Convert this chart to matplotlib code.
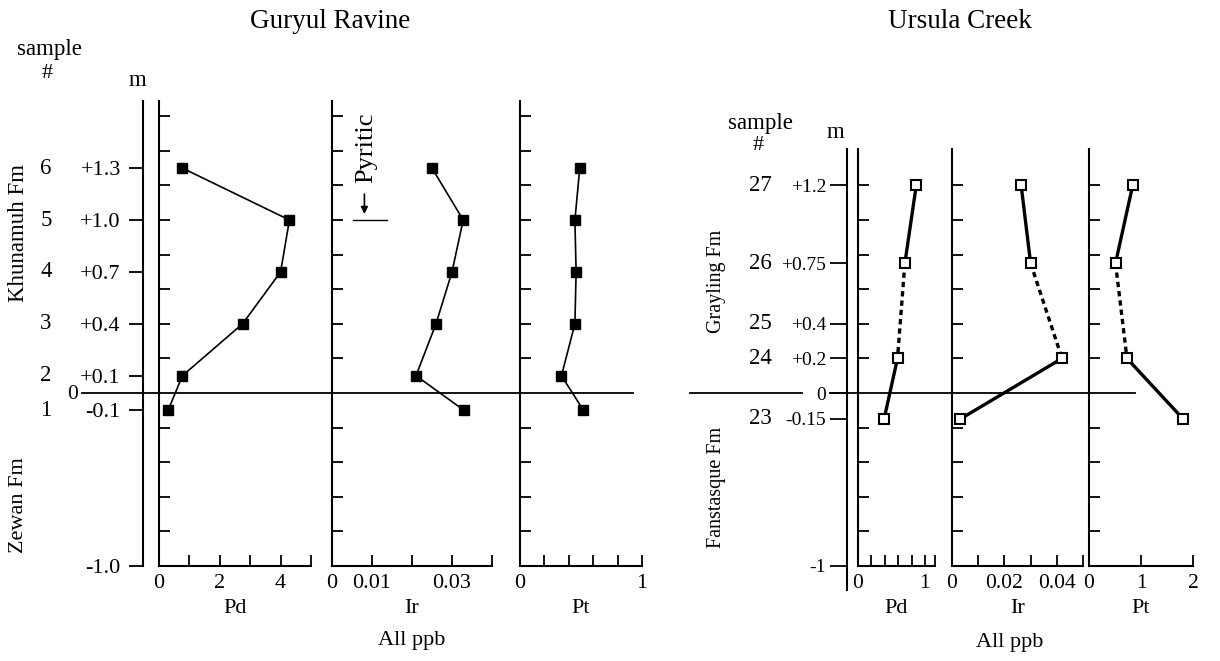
import numpy as np
import matplotlib
matplotlib.use("Agg")
import matplotlib.pyplot as plt
import matplotlib.transforms as mtransforms
from matplotlib.lines import Line2D

plt.rcParams["font.family"] = ["Liberation Serif", "DejaVu Serif"]

# Guryul Ravine (filled squares)
gur_depth = [1.3, 1.0, 0.7, 0.4, 0.1, -0.1]
gur_sample = ["6", "5", "4", "3", "2", "1"]
gur_depth_lbl = ["+1.3", "+1.0", "+0.7", "+0.4", "+0.1", "-0.1"]
gur_pd = [0.77, 4.29, 4.0, 2.75, 0.77, 0.3]
gur_ir = [0.025, 0.0328, 0.030, 0.026, 0.021, 0.033]
gur_pt = [0.49, 0.45, 0.46, 0.45, 0.34, 0.52]

# Ursula Creek (open squares); sample 25 has no analysis
urs_depth = [1.2, 0.75, 0.4, 0.2, -0.15]
urs_sample = ["27", "26", "25", "24", "23"]
urs_depth_lbl = ["+1.2", "+0.75", "+0.4", "+0.2", "-0.15"]
urs_meas_depth = [1.2, 0.75, 0.2, -0.15]
urs_pd = [0.87, 0.70, 0.59, 0.39]
urs_ir = [0.0264, 0.030, 0.042, 0.0032]
urs_pt = [0.84, 0.51, 0.73, 1.81]

W, H = 1220, 661
Y0, S = 393, 173  # pixel row of 0 m, pixels per metre

fig = plt.figure(figsize=(W / 100, H / 100), dpi=100)


def ypx(d):
    return Y0 - S * d


def add_panel(x0, x1, d_lo, d_hi):
    b = 1 - ypx(d_lo) / H
    t = 1 - ypx(d_hi) / H
    ax = fig.add_axes([x0 / W, b, (x1 - x0) / W, t - b])
    ax.set_ylim(d_lo, d_hi)
    ax.patch.set_visible(False)
    return ax


def ftext(x, y, s, fs, **kw):
    kw.setdefault("ha", "center")
    kw.setdefault("va", "center")
    fig.text(x / W, 1 - y / H, s, fontsize=fs, **kw)


def depth_axis(x, d_lo, d_hi, ticks, labels, tlen, pad, fs):
    ax = add_panel(x, x + 0.5, d_lo, d_hi)
    for side in ["top", "right", "bottom"]:
        ax.spines[side].set_visible(False)
    ax.spines["left"].set_linewidth(1.5)
    ax.set_xticks([])
    ax.set_yticks(ticks)
    ax.set_yticklabels(labels)
    ax.tick_params(axis="y", direction="out", length=tlen, width=1.3,
                   pad=pad, labelsize=fs)
    return ax


def element_axis(x0, x1, xmax, d_lo, d_hi, yticks, xticks, xlabels, name, fs):
    ax = add_panel(x0, x1, d_lo, d_hi)
    ax.set_xlim(0, xmax)
    ax.spines["top"].set_visible(False)
    ax.spines["right"].set_visible(False)
    for side in ["left", "bottom"]:
        ax.spines[side].set_linewidth(1.5)
    ax.set_yticks(yticks)
    ax.set_yticklabels([])
    ax.set_xticks(xticks)
    ax.set_xticklabels(xlabels)
    ax.tick_params(axis="both", direction="in", length=8, width=1.3,
                   labelsize=fs)
    ax.tick_params(axis="x", pad=6)
    ax.set_xlabel(name, fontsize=16, labelpad=4)
    return ax


def zero_line(ax, segments):
    tr = mtransforms.blended_transform_factory(fig.transFigure, ax.transData)
    for a, b in segments:
        fig.add_artist(Line2D([a / W, b / W], [0, 0], transform=tr,
                              color="k", lw=1.3))


def side_text(ax, x, depths, labels, fs):
    tr = mtransforms.blended_transform_factory(fig.transFigure, ax.transData)
    for d, s in zip(depths, labels):
        ax.text(x / W, d, s, transform=tr, ha="center", va="center",
                fontsize=fs)


# ---------------- Guryul Ravine ----------------
G_LO, G_HI = -1.0, 1.69
g_yt = [-0.8, -0.6, -0.4, -0.2, 0.2, 0.4, 0.6, 0.8, 1.0, 1.2, 1.4, 1.6]

gd = depth_axis(143, G_LO, G_HI, gur_depth + [-1.0], gur_depth_lbl + ["-1.0"],
                tlen=10, pad=6, fs=16)
side_text(gd, 46, gur_depth, gur_sample, 16.5)

gpd = element_axis(159, 311, 5, G_LO, G_HI, g_yt, [0, 1, 2, 3, 4, 5],
                   ["0", "", "2", "", "4", ""], "Pd", 16)
gir = element_axis(332, 492, 0.04, G_LO, G_HI, g_yt,
                   [0, 0.01, 0.02, 0.03, 0.04],
                   ["0", "0.01", "", "0.03", ""], "Ir", 16)
gpt = element_axis(520, 642, 1, G_LO, G_HI, g_yt,
                   [0, 0.2, 0.4, 0.6, 0.8, 1.0],
                   ["0", "", "", "", "", "1"], "Pt", 16)

for ax, vals in [(gpd, gur_pd), (gir, gur_ir), (gpt, gur_pt)]:
    ax.plot(vals, gur_depth, color="k", lw=1.2, marker="s", ms=7.5,
            mfc="k", mec="k", clip_on=False)

# pyritic marker
gir.text(0.0086, 1.42, "Pyritic", rotation=90, ha="center", va="center",
         fontsize=19)
gir.annotate("", xy=(0.0081, 1.035), xytext=(0.0081, 1.15),
             arrowprops=dict(arrowstyle="-|>", color="k", lw=1.2,
                             mutation_scale=10, shrinkA=0, shrinkB=0))
gir.plot([0.0052, 0.0138], [1.0, 1.0], color="k", lw=1.0)

zero_line(gd, [(82, 633)])
ftext(73, 395, "0", 15.5)

ftext(330, 22, "Guryul Ravine", 19.5)
ftext(49, 50, "sample", 16.5)
ftext(47, 74, "#", 16)
ftext(137, 80, "m", 16.5)
ftext(19, 233, "Khunamuh Fm", 16.5, rotation=90)
ftext(19, 505, "Zewan Fm", 16, rotation=90)
ftext(412, 640, "All ppb", 16)

# ---------------- Ursula Creek ----------------
U_LO, U_HI = -1.0, 1.41
u_yt = [-0.8, -0.6, -0.4, -0.2, 0.2, 0.4, 0.6, 0.8, 1.0, 1.2]

ud = depth_axis(847, -1.14, U_HI, urs_depth + [0, -1],
                urs_depth_lbl + ["0", "-1"], tlen=12, pad=3, fs=14)
side_text(ud, 760, urs_depth, urs_sample, 16.5)

upd = element_axis(858, 935, 1.15, U_LO, U_HI, u_yt,
                   [0, 0.2, 0.4, 0.6, 0.8, 1.0, 1.15],
                   ["0", "", "", "", "", "1", ""], "Pd", 15.5)
uir = element_axis(952, 1083, 0.05, U_LO, U_HI, u_yt,
                   [0, 0.01, 0.02, 0.03, 0.04, 0.05],
                   ["0", "", "0.02", "", "0.04", ""], "Ir", 15.5)
upt = element_axis(1089, 1193, 2, U_LO, U_HI, u_yt, [0, 1, 2],
                   ["0", "1", "2"], "Pt", 15.5)

for ax, vals in [(upd, urs_pd), (uir, urs_ir), (upt, urs_pt)]:
    ax.plot(vals[:2], urs_meas_depth[:2], color="k", lw=2.4)
    ax.plot(vals[1:3], urs_meas_depth[1:3], color="k", lw=2.4,
            linestyle=(0, (1.6, 1.2)))
    ax.plot(vals[2:], urs_meas_depth[2:], color="k", lw=2.4)
    ax.plot(vals, urs_meas_depth, linestyle="none", marker="s", ms=6.5,
            mfc="white", mec="k", mew=1.5, clip_on=False, zorder=3)

zero_line(ud, [(690, 802), (830, 1135)])

ftext(960, 22, "Ursula Creek", 19.5)
ftext(760, 124, "sample", 16.5)
ftext(758, 145, "#", 16)
ftext(835, 133, "m", 16.5)
ftext(716, 281, "Grayling Fm", 14.5, rotation=90)
ftext(716, 487, "Fanstasque Fm", 14.5, rotation=90)
ftext(1010, 642, "All ppb", 16)

fig.savefig("out.png", dpi=100)
